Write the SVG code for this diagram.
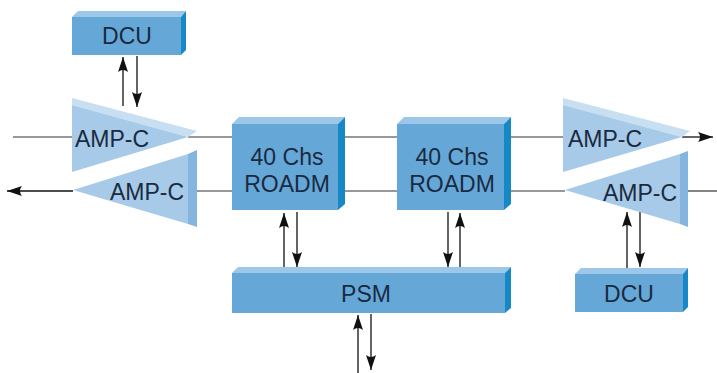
<svg xmlns="http://www.w3.org/2000/svg" width="717" height="373" viewBox="0 0 717 373">
<defs>
<marker id="ah" markerUnits="userSpaceOnUse" markerWidth="17" markerHeight="12" refX="15" refY="5" orient="auto">
<path d="M0,0 L15,5 L0,10 Q4,5 0,0 Z" fill="#111"/>
</marker>
</defs>
<style>
.front{fill:#65a8d8}
.top{fill:#9cc7e8}
.side{fill:#1788c6}
.ampf{fill:#a6cae8}
.ampt{fill:#c8def1}
.amps{fill:#84b5de}
.lbl{font-family:"Liberation Sans",Arial,sans-serif;font-size:23px;fill:#1a2a40}
.ln{stroke:#333;stroke-width:1.2;fill:none}
.ar{stroke:#111;stroke-width:1.3;fill:none;marker-end:url(#ah)}
</style>
<rect width="717" height="373" fill="#fff"/>
<g id="connectors">
<line class="ln" x1="13" y1="137" x2="72" y2="137"/>
<line class="ln" x1="188" y1="137" x2="232" y2="137"/>
<line class="ln" x1="345" y1="137" x2="397" y2="137"/>
<line class="ln" x1="511" y1="137" x2="563" y2="137"/>
<line class="ar" x1="682" y1="137" x2="713" y2="137"/>
<line class="ar" x1="73" y1="191" x2="7" y2="191"/>
<line class="ln" x1="197" y1="191" x2="232" y2="191"/>
<line class="ln" x1="345" y1="191" x2="397" y2="191"/>
<line class="ln" x1="511" y1="191" x2="565" y2="191"/>
<line class="ln" x1="688" y1="191" x2="717" y2="191"/>
<line class="ar" x1="123" y1="106" x2="123" y2="57"/>
<line class="ar" x1="137" y1="56" x2="137" y2="107"/>
<line class="ar" x1="284" y1="267" x2="284" y2="213"/>
<line class="ar" x1="297" y1="212" x2="297" y2="267"/>
<line class="ar" x1="448" y1="212" x2="448" y2="267"/>
<line class="ar" x1="460" y1="267" x2="460" y2="213"/>
<line class="ar" x1="627" y1="268" x2="627" y2="212"/>
<line class="ar" x1="640" y1="212" x2="640" y2="267"/>
<line class="ar" x1="358" y1="373" x2="358" y2="315"/>
<line class="ar" x1="371" y1="314" x2="371" y2="370"/>
</g>
<g id="dcu-left">
<polygon class="top" points="72,17 78,11 186,11 181,17"/>
<polygon class="side" points="181,17 186,11 186,50 181,55"/>
<rect class="front" x="72" y="17" width="109" height="38"/>
<text class="lbl" x="127" y="44" text-anchor="middle">DCU</text>
</g>
<g id="amp-left-top">
<polygon class="ampt" points="72,98 197,131 188,137 72,105"/>
<polygon class="ampf" points="72,105 188,137 72,172"/>
<text class="lbl" x="75" y="147">AMP-C</text>
</g>
<g id="amp-left-bottom">
<polygon class="amps" points="188,154 197,150 197,227 188,224"/>
<polygon class="ampf" points="73,190 188,154 188,224"/>
<text class="lbl" x="110" y="200">AMP-C</text>
</g>
<g id="roadm-1">
<polygon class="top" points="232,124 239,117 345,117 338,124"/>
<polygon class="side" points="338,124 345,117 345,204 338,210"/>
<rect class="front" x="232" y="124" width="106" height="86"/>
<text class="lbl" x="287" y="165" text-anchor="middle">40 Chs</text>
<text class="lbl" x="287" y="192" text-anchor="middle">ROADM</text>
</g>
<g id="roadm-2">
<polygon class="top" points="397,124 404,117 511,117 504,124"/>
<polygon class="side" points="504,124 511,117 511,204 504,210"/>
<rect class="front" x="397" y="124" width="107" height="86"/>
<text class="lbl" x="452" y="165" text-anchor="middle">40 Chs</text>
<text class="lbl" x="452" y="192" text-anchor="middle">ROADM</text>
</g>
<g id="psm">
<polygon class="top" points="232,273 238,267 511,267 505,273"/>
<polygon class="side" points="505,273 511,267 511,308 505,313"/>
<rect class="front" x="232" y="273" width="273" height="40"/>
<text class="lbl" x="366" y="302" text-anchor="middle">PSM</text>
</g>
<g id="amp-right-top">
<polygon class="ampt" points="563,98 690,131 682,137 563,105"/>
<polygon class="ampf" points="563,105 682,137 563,172"/>
<text class="lbl" x="568" y="147">AMP-C</text>
</g>
<g id="amp-right-bottom">
<polygon class="amps" points="680,154 688,151 688,227 680,224"/>
<polygon class="ampf" points="565,190 680,154 680,224"/>
<text class="lbl" x="603" y="201">AMP-C</text>
</g>
<g id="dcu-right">
<polygon class="top" points="575,274 581,268 688,268 683,274"/>
<polygon class="side" points="683,274 688,268 688,307 683,312"/>
<rect class="front" x="575" y="274" width="108" height="38"/>
<text class="lbl" x="629" y="302" text-anchor="middle">DCU</text>
</g>
</svg>
